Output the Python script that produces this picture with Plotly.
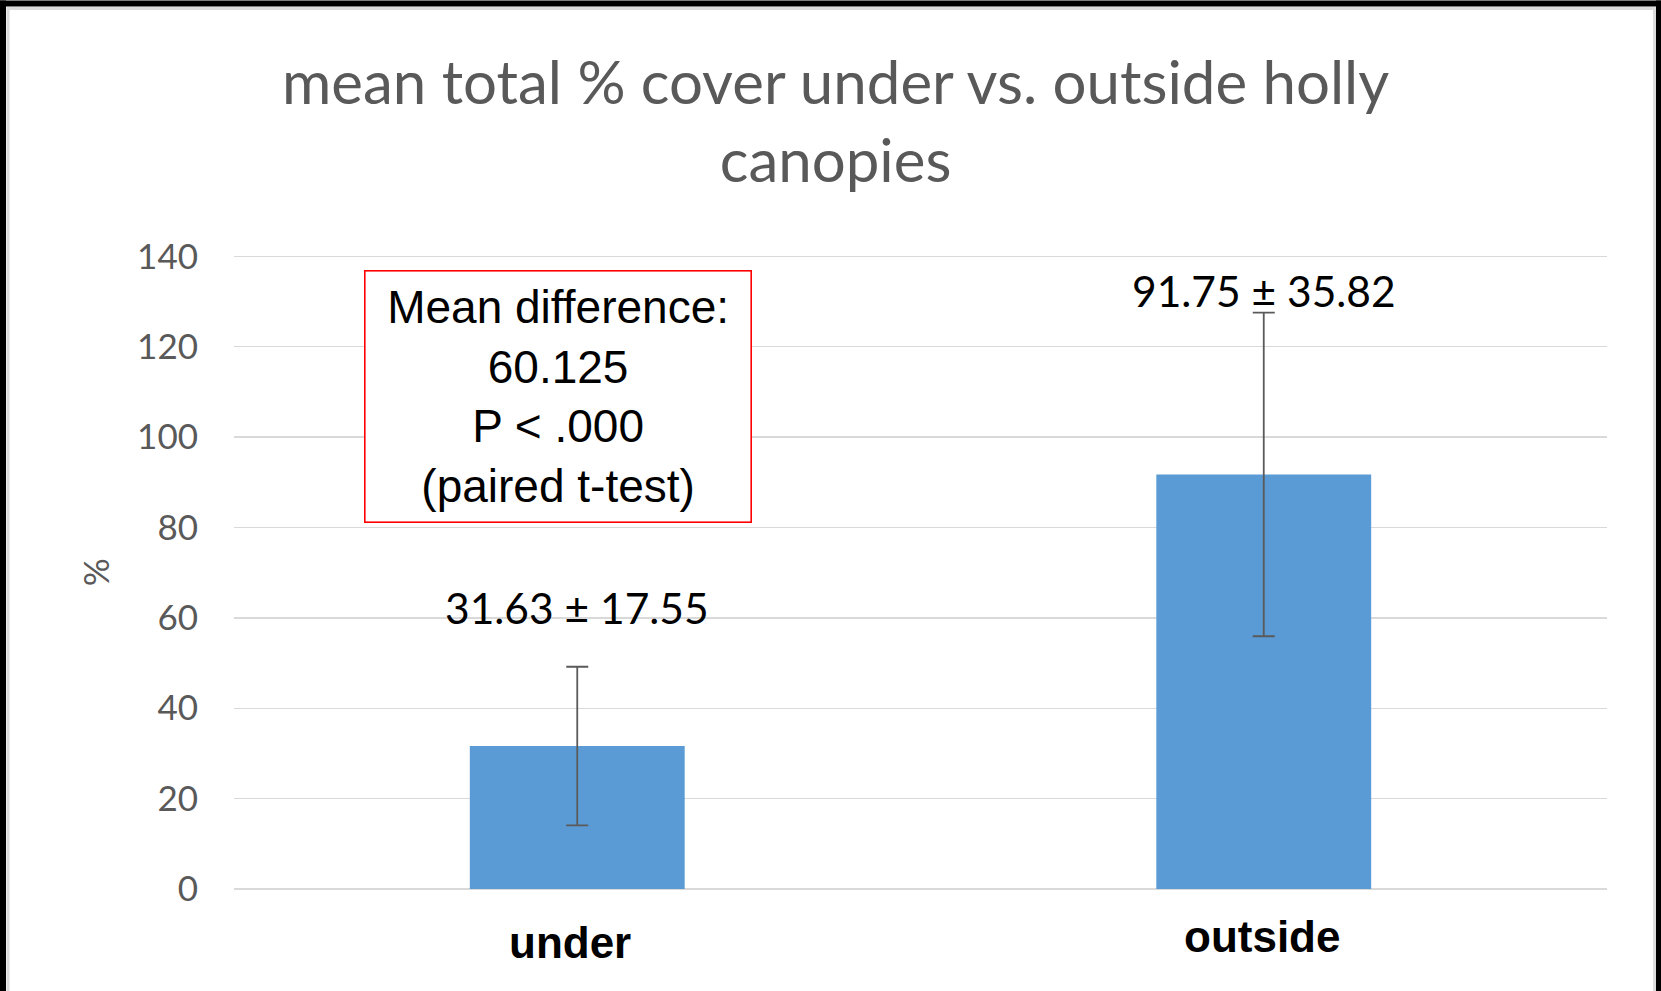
import plotly.graph_objects as go

# ---- data ----
categories = ["under", "outside"]
means = [31.63, 91.75]
sds = [17.55, 35.82]
y_ticks = [0, 20, 40, 60, 80, 100, 120, 140]
title_text = "mean total % cover under vs. outside holly<br>canopies"
stats_lines = ["Mean difference:", "60.125", "P < .000", "(paired t-test)"]
value_labels = [f"{m:.2f} \u00b1 {s:.2f}" for m, s in zip(means, sds)]

# ---- geometry ----
W, H = 1661, 991
Y_MAX = 140.3
L, R, B = 234, 54, 102
PW = W - L - R
PPU = 633 / 140.0                      # pixels per y unit
PH = Y_MAX * PPU
T = H - B - PH


def px(x):
    return (x - L) / PW


def py(y):
    return (H - B - y) / PH


GRAY = "#595959"
fig = go.Figure()
fig.add_trace(go.Bar(
    x=categories, y=means,
    marker=dict(color="#5B9BD5", line=dict(width=0)),
    error_y=dict(type="data", array=sds, visible=True, color="#5A5A5A",
                 thickness=1.8, width=11),
    hoverinfo="skip",
))

fig.update_layout(
    width=W, height=H,
    margin=dict(l=L, r=R, t=T, b=B, autoexpand=False),
    paper_bgcolor="white", plot_bgcolor="white",
    bargap=0.687, showlegend=False,
    xaxis=dict(
        showgrid=False, zeroline=False, showline=False,
        showticklabels=False, fixedrange=True,
    ),
    yaxis=dict(
        range=[0, Y_MAX], tickvals=y_ticks, ticktext=[str(v) for v in y_ticks],
        showgrid=True, gridcolor="#D9D9D9", gridwidth=1.3,
        zeroline=True, zerolinecolor="#D9D9D9", zerolinewidth=1.3,
        showline=False,
        tickfont=dict(family="Lato, Open Sans, sans-serif", size=35, color=GRAY),
        ticklabelstandoff=35, fixedrange=True,
    ),
)

# category labels (positioned like the reference's text boxes)
cat_label_pos = [(-7, 943), (-2, 937)]
for cat, (dx, cy) in zip(categories, cat_label_pos):
    fig.add_annotation(
        text=cat, x=cat, xref="x", yref="paper", y=py(cy), xshift=dx,
        xanchor="center", yanchor="middle", showarrow=False,
        font=dict(family="Liberation Sans Narrow, Liberation Sans, Arial", size=44,
                  color="black", weight="bold"),
    )

# title
fig.add_annotation(
    text=title_text, xref="paper", yref="paper",
    x=px(835), y=py(119.5), xanchor="center", yanchor="middle",
    showarrow=False, align="center",
    font=dict(family="Lato, Open Sans, sans-serif", size=60, color=GRAY),
)

# y-axis title
fig.add_annotation(
    text="%", xref="paper", yref="paper", x=px(95), y=py(572),
    xanchor="center", yanchor="middle", showarrow=False, textangle=-90,
    font=dict(family="Lato, Open Sans, sans-serif", size=35, color=GRAY),
)

# value labels
label_px_y = [607, 290]
for cat, lab, ly in zip(categories, value_labels, label_px_y):
    fig.add_annotation(
        text=lab, x=cat, xref="x", yref="paper", y=py(ly),
        xanchor="center", yanchor="middle", showarrow=False,
        font=dict(family="Lato, Open Sans, sans-serif", size=42.5, color="black"),
    )

# stats box
fig.add_annotation(
    text="<br>".join(stats_lines), xref="paper", yref="paper",
    x=px((364 + 751) / 2), y=py((270 + 522) / 2),
    xanchor="center", yanchor="middle", showarrow=False, align="center",
    width=751 - 364 - 2, height=522 - 270 - 2, borderpad=0,
    bordercolor="#FF0000", borderwidth=1.6, bgcolor="white",
    font=dict(family="Liberation Sans, Arial", size=46, color="black"),
)

# outer frame (black border + light gray inner border)
shapes = [
    dict(type="rect", xref="paper", yref="paper", x0=px(0), x1=px(6), y0=py(0), y1=py(H),
         fillcolor="black", line=dict(width=0)),
    dict(type="rect", xref="paper", yref="paper", x0=px(0), x1=px(W), y0=py(0), y1=py(6),
         fillcolor="black", line=dict(width=0)),
    dict(type="rect", xref="paper", yref="paper", x0=px(1656), x1=px(W), y0=py(0), y1=py(H),
         fillcolor="black", line=dict(width=0)),
    dict(type="rect", xref="paper", yref="paper", x0=px(8), x1=px(1654.5), y0=py(8), y1=py(H + 5),
         fillcolor="rgba(0,0,0,0)", line=dict(color="#DCDCDC", width=3)),
]
fig.update_layout(shapes=shapes)

fig.write_html(
    "out.html",
    config={"displayModeBar": False, "staticPlot": True},
    post_script="document.body.style.margin='0';document.body.style.overflow='hidden';",
)
